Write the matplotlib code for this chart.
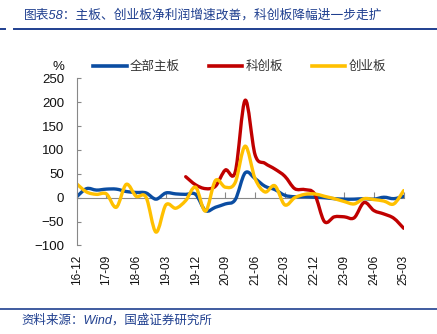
import numpy as np
import matplotlib
matplotlib.use('Agg')
import matplotlib.pyplot as plt
from matplotlib.path import Path
from matplotlib.patches import PathPatch
from matplotlib.lines import Line2D

plt.rcParams['font.family'] = ['Liberation Sans', 'Noto Sans CJK SC', 'DejaVu Sans']

# quarterly net profit growth, %
quarters = ['16-12', '17-03', '17-06', '17-09', '17-12', '18-03', '18-06', '18-09',
            '18-12', '19-03', '19-06', '19-09', '19-12', '20-03', '20-06', '20-09',
            '20-12', '21-03', '21-06', '21-09', '21-12', '22-03', '22-06', '22-09',
            '22-12', '23-03', '23-06', '23-09', '23-12', '24-03', '24-06', '24-09',
            '24-12', '25-03']
main_board = [2, 19, 16, 18, 18, 13, 11, 10, -3, 10, 8, 7, 7, -27, -20, -13, -4,
              52, 40, 24, 17, 5, 2, 2, 1, 0, -2, -3, -3, -2, -3, 1, -2, 3]
star_board = [np.nan] * 11 + [44, 27, 19, 24, 58, 54, 204, 90, 72, 60, 45, 19, 17, 8,
                              -50, -40, -40, -42, -10, -27, -34, -43, -64]
chinext = [29, 12, 7, 8, -20, 28, 3, 1, -72, -15, -22, -6, 22, -28, 36, 22, 32,
           108, 40, 12, 25, -15, 0, 7, 8, 3, -2, -8, -13, -2, -4, -7, -13, 15]

series_names = ['全部主板', '科创板', '创业板']
colors = ['#0B4DA2', '#C00000', '#FFC000']
NAVY = '#1F3F8F'


def smooth_path(x, y):
    # excel-style smoothed line: cubic bezier with catmull-rom control points
    pts = np.column_stack([x, y])
    verts = [pts[0]]
    codes = [Path.MOVETO]
    n = len(pts)
    for i in range(n - 1):
        p0 = pts[i - 1] if i > 0 else pts[i]
        p1, p2 = pts[i], pts[i + 1]
        p3 = pts[i + 2] if i + 2 < n else pts[i + 1]
        c1 = p1 + (p2 - p0) / 6.0
        c2 = p2 - (p3 - p1) / 6.0
        verts += [c1, c2, p2]
        codes += [Path.CURVE4] * 3
    return Path(verts, codes)


fig = plt.figure(figsize=(4.37, 3.34), dpi=100)
ax = fig.add_axes([0.1755, 0.265, 0.7483, 0.5006])

xs = np.arange(len(quarters))
for vals, c in zip([main_board, star_board, chinext], colors):
    v = np.array(vals, dtype=float)
    ok = ~np.isnan(v)
    ax.add_patch(PathPatch(smooth_path(xs[ok], v[ok]), facecolor='none',
                           edgecolor=c, lw=2.4, capstyle='round', joinstyle='round'))

ax.set_xlim(0, len(quarters) - 1)
ax.set_ylim(-100, 250)
ax.set_yticks(range(-100, 251, 50))
ax.tick_params(axis='y', direction='in', length=3, color='#888888',
               labelsize=9.5, pad=9, labelcolor='#111111')
ax.set_xticks(xs[::3])
ax.set_xticklabels(quarters[::3], rotation=90, fontsize=8.5, color='#111111')
ax.tick_params(axis='x', length=0, pad=7)
for s in ['top', 'right', 'bottom']:
    ax.spines[s].set_visible(False)
ax.spines['left'].set_color('#888888')

# zero axis with tick marks
zero_pos = (0 - ax.get_ylim()[0]) / (ax.get_ylim()[1] - ax.get_ylim()[0])
sec = ax.secondary_xaxis(zero_pos)
sec.set_xticks(xs[::3])
sec.tick_params(direction='in', length=4, color='#888888', labelbottom=False, labeltop=False)
sec.spines['bottom'].set_color('#888888')
sec.spines['top'].set_color('#888888')

ax.text(-0.055, 1.03, '%', transform=ax.transAxes, ha='center', va='bottom',
        fontsize=9.5, color='#111111')

handles = [Line2D([0], [0], color=c, lw=2.6) for c in colors]
fig.legend(handles, series_names, loc='center', bbox_to_anchor=(0.548, 0.80), ncol=3,
           frameon=False, fontsize=9, handlelength=2.7, handletextpad=0.25,
           columnspacing=2.3, labelcolor='#333333')

fig.text(0.055, 0.955, '图表58：主板、创业板净利润增速改善，科创板降幅进一步走扩',
         fontsize=9.2, color=NAVY, ha='left', va='center', style='italic')
fig.add_artist(Line2D([0.032, 1.0], [0.913, 0.913], color=NAVY, lw=1.4))
fig.add_artist(Line2D([0.0, 0.012], [0.913, 0.913], color=NAVY, lw=1.4))
fig.add_artist(Line2D([0.0, 1.0], [0.075, 0.075], color=NAVY, lw=1.2))
fig.text(0.05, 0.042, '资料来源：Wind，国盛证券研究所', fontsize=9, color=NAVY,
         ha='left', va='center', style='italic')

fig.savefig('out.png', dpi=100)
